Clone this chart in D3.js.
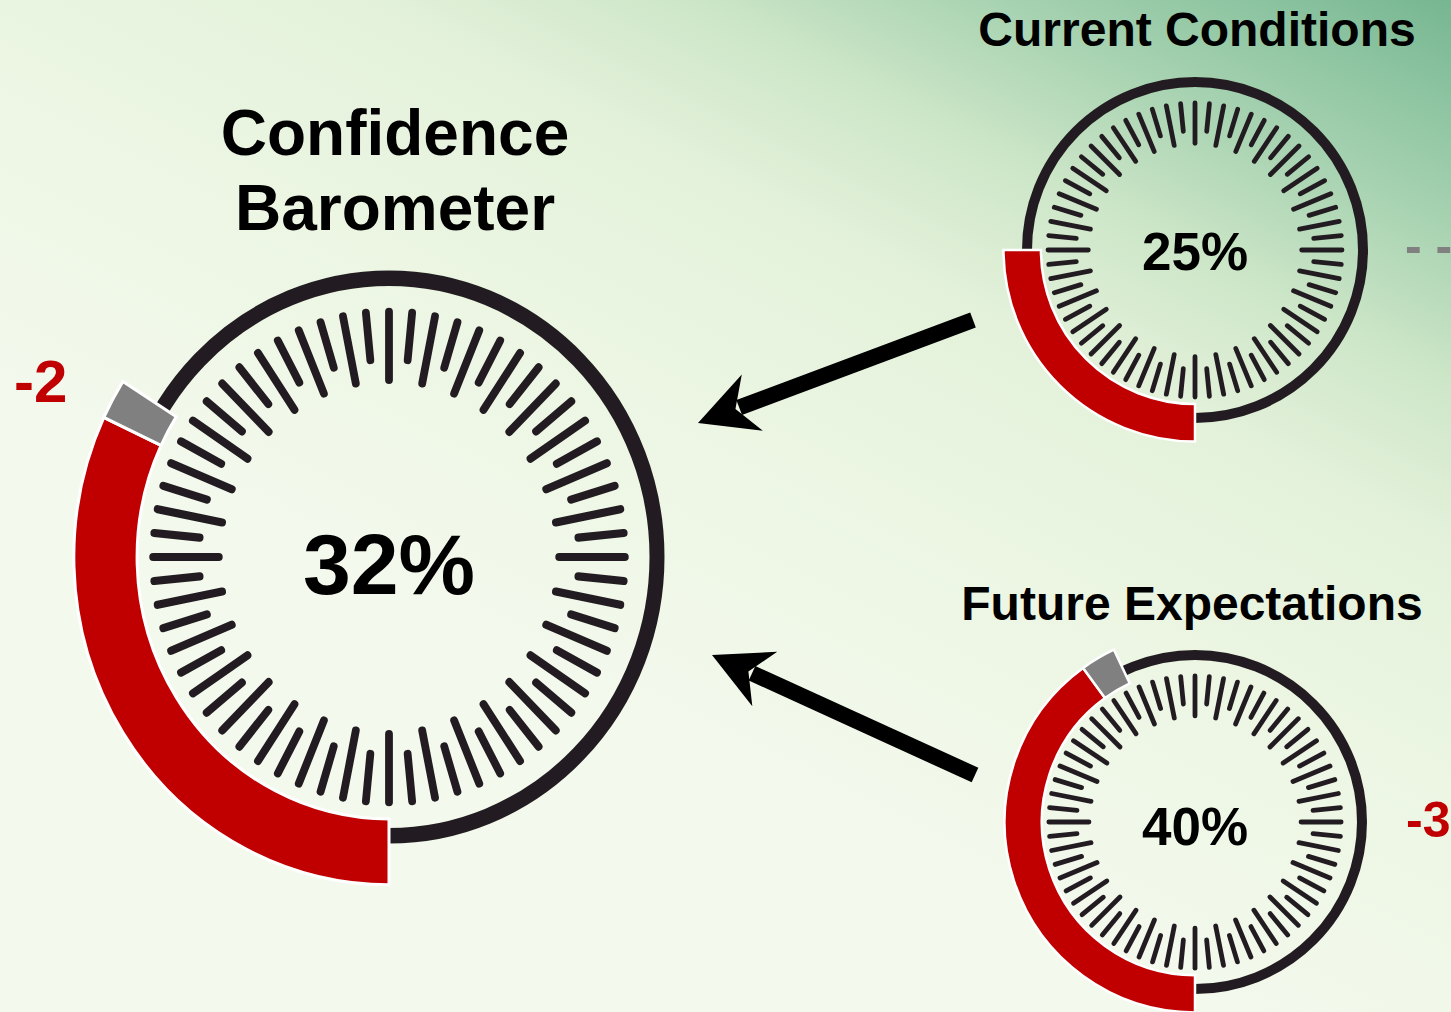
<!DOCTYPE html>
<html>
<head>
<meta charset="utf-8">
<script src="https://cdn.jsdelivr.net/npm/d3@7"></script>
<style>
  html, body { margin: 0; padding: 0; overflow: hidden; background: #eef7e4; }
  svg { display: block; }
  text { font-family: "Liberation Sans", Arial, Helvetica, sans-serif; font-weight: bold; }
</style>
</head>
<body>
<svg id="chart" width="1451" height="1012"></svg>
<script>
// Survey readings: share of positive answers (%) and change since last wave (points)
const gaugeTitles  = [["Confidence", "Barometer"], ["Current Conditions"], ["Future Expectations"]];
const gaugeValues  = [32, 25, 40];
const gaugeChanges = [-2, 0, -3];
const changeLabels = ["-2", "- -", "-3"];
const tickCount = 64;   // dial graduations, alternating long / short

const W = 1451, H = 1012;
const svg = d3.select("#chart");
const defs = svg.append("defs");

// Backdrop: pale green, deepening toward the top-right corner
const bg = defs.append("linearGradient")
  .attr("id", "bg").attr("gradientUnits", "userSpaceOnUse")
  .attr("x1", 1451).attr("y1", 0).attr("x2", 1000).attr("y2", 900);
[[0, "#76b691"], [0.1, "#8fc5a2"], [0.22, "#acd5b4"], [0.34, "#cde6c8"],
 [0.48, "#e3f1da"], [0.7, "#ecf6e3"], [1, "#f3f9ed"]]
  .forEach(([o, c]) => bg.append("stop").attr("offset", o).attr("stop-color", c));

defs.append("filter").attr("id", "soft")
  .attr("x", "-5%").attr("y", "-5%").attr("width", "110%").attr("height", "110%")
  .append("feGaussianBlur").attr("stdDeviation", 0.6);

svg.append("rect").attr("width", W).attr("height", H).attr("fill", "url(#bg)");

// Dial geometry for each gauge
const layout = [
  { cx: 389,  cy: 557, r: 268, sy: 1.04, ring: 15, tickW: 7.8, tickOut: 0.88,
    bandIn: 0.94, bandOut: 1.176, edge: 3,
    titleX: 395,  titleY: [155, 230], titleSize: 64,
    valueSize: 86, valueY: 594, labelX: 14,   labelY: 402, labelSize: 60, labelColor: "#c00000" },
  { cx: 1195, cy: 250, r: 168, sy: 1, ring: 10, tickW: 4.8, tickOut: 0.875,
    bandIn: 0.917, bandOut: 1.14, edge: 2.5,
    titleX: 1197, titleY: [46],       titleSize: 48,
    valueSize: 53, valueY: 270, labelX: 1405, labelY: 263, labelSize: 50, labelColor: "#808080" },
  { cx: 1195, cy: 822, r: 167, sy: 1, ring: 10, tickW: 4.8, tickOut: 0.875,
    bandIn: 0.917, bandOut: 1.14, edge: 2.5,
    titleX: 1192, titleY: [620],      titleSize: 48,
    valueSize: 53, valueY: 845, labelX: 1406, labelY: 837, labelSize: 50, labelColor: "#c00000" }
];

// Percent -> angle, starting at 6 o'clock and running clockwise
const angle = d3.scaleLinear().domain([0, 100]).range([Math.PI, 3 * Math.PI]);
const tickIndex = d3.range(tickCount);
const tickAngle = d3.scaleLinear().domain([0, tickCount]).range([0, 2 * Math.PI]);

gaugeValues.forEach((value, gi) => {
  const L = layout[gi];
  const r = L.r;
  const g = svg.append("g").attr("transform", `translate(${L.cx},${L.cy}) scale(1,${L.sy})`);

  // outer ring and graduations
  const dial = g.append("g").attr("filter", "url(#soft)");
  dial.append("circle")
    .attr("r", r).attr("fill", "none")
    .attr("stroke", "#231f20").attr("stroke-width", L.ring);

  const inner = i => (i % 2 === 0 ? 0.635 : 0.71) * r;
  dial.selectAll("line.tick").data(tickIndex).join("line")
    .attr("class", "tick")
    .attr("x1", i => Math.sin(tickAngle(i)) * inner(i))
    .attr("y1", i => -Math.cos(tickAngle(i)) * inner(i))
    .attr("x2", i => Math.sin(tickAngle(i)) * L.tickOut * r)
    .attr("y2", i => -Math.cos(tickAngle(i)) * L.tickOut * r)
    .attr("stroke", "#231f20").attr("stroke-width", L.tickW)
    .attr("stroke-linecap", "round");

  // value band (red) and the lost share since the previous reading (grey)
  const band = d3.arc().innerRadius(L.bandIn * r).outerRadius(L.bandOut * r);
  g.append("path")
    .attr("d", band({ startAngle: angle(0), endAngle: angle(value) }))
    .attr("fill", "#c00000").attr("stroke", "#ffffff").attr("stroke-width", L.edge);
  const change = gaugeChanges[gi];
  if (change !== 0) {
    g.append("path")
      .attr("d", band({ startAngle: angle(value), endAngle: angle(value - change) }))
      .attr("fill", "#808080").attr("stroke", "#ffffff").attr("stroke-width", L.edge);
  }

  // centre value
  svg.append("text")
    .attr("x", L.cx).attr("y", L.valueY)
    .attr("text-anchor", "middle").attr("font-size", L.valueSize).attr("fill", "#000")
    .text(value + "%");

  // title
  gaugeTitles[gi].forEach((line, li) => {
    svg.append("text")
      .attr("x", L.titleX).attr("y", L.titleY[li])
      .attr("text-anchor", "middle").attr("font-size", L.titleSize).attr("fill", "#000")
      .text(line);
  });

  // change label
  svg.append("text")
    .attr("x", L.labelX).attr("y", L.labelY)
    .attr("font-size", L.labelSize).attr("fill", L.labelColor)
    .text(changeLabels[gi]);
});

// Arrows feeding the two sub-indices into the barometer
const arrows = [
  { from: [973, 320], to: [698, 423] },
  { from: [975, 775], to: [712, 655] }
];
arrows.forEach(a => {
  const [tx, ty] = a.to;
  const dx = a.from[0] - tx, dy = a.from[1] - ty;
  const len = Math.hypot(dx, dy);
  const bx = dx / len, by = dy / len;     // back along the shaft
  const nx = -by, ny = bx;                // across the shaft
  const headLen = 58, notch = 40, half = 30;
  svg.append("line")
    .attr("x1", a.from[0]).attr("y1", a.from[1])
    .attr("x2", tx + bx * (notch + 4)).attr("y2", ty + by * (notch + 4))
    .attr("stroke", "#000").attr("stroke-width", 16);
  const head = d3.path();
  head.moveTo(tx, ty);
  head.lineTo(tx + bx * headLen + nx * half, ty + by * headLen + ny * half);
  head.lineTo(tx + bx * notch, ty + by * notch);
  head.lineTo(tx + bx * headLen - nx * half, ty + by * headLen - ny * half);
  head.closePath();
  svg.append("path").attr("d", head.toString()).attr("fill", "#000");
});
</script>
</body>
</html>
